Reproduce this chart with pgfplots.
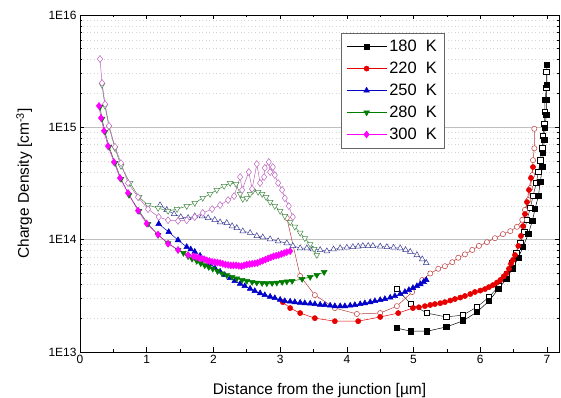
\documentclass[border=0pt]{standalone}
\usepackage{fontspec}
\setmainfont{Liberation Sans}
\usepackage{pgfplots}
\pgfplotsset{compat=1.18}
\definecolor{cred}{RGB}{230,0,0}
\definecolor{cblue}{RGB}{0,0,200}
\definecolor{cgreen}{RGB}{0,125,0}
\definecolor{cmag}{RGB}{255,0,255}
\definecolor{oblk}{RGB}{40,40,40}
\definecolor{ored}{RGB}{190,60,60}
\definecolor{oblue}{RGB}{60,60,150}
\definecolor{ogreen}{RGB}{70,140,70}
\definecolor{omag}{RGB}{190,100,190}
\begin{document}
\begin{tikzpicture}
\useasboundingbox (-80bp,-46bp) rectangle (481bp,352bp);
\begin{axis}[
  at={(0,0)}, anchor=south west,
  width=479bp, height=337bp, scale only axis,
  xmin=0, xmax=7.18, ymin=1e13, ymax=1e16, ymode=log,
  xtick={0,1,2,3,4,5,6,7}, minor x tick num=1,
  ytick={1e13,1e14,1e15,1e16}, yticklabels={1E13,1E14,1E15,1E16},
  ymajorgrids, yminorgrids,
  major grid style={black!25, line width=0.9pt},
  minor grid style={black!17, dash pattern=on 1bp off 2.5bp, line width=0.6pt},
  axis line style={line width=0.8pt},
  tick style={black, line width=0.6pt},
  major tick length=4.5bp, minor tick length=2.5bp,
  tick label style={font=\fontsize{12}{12}\selectfont},
  /pgf/number format/assume math mode=true,
  xlabel={Distance from the junction [µm]},
  ylabel={Charge Density [cm\textsuperscript{-3}]},
  label style={font=\fontsize{15.5}{16}\selectfont},
  xlabel style={at={(axis description cs:0.5,-0.1276)}, anchor=base},
  ylabel style={at={(axis description cs:-0.1065,0.5)}, anchor=base},
  legend style={at={(axis description cs:0.545,0.947)}, anchor=north west,
    draw=black!60, line width=0.6pt, font=\fontsize{16.5}{19}\selectfont,
    inner xsep=5bp, inner ysep=4.5bp, row sep=4bp, nodes={inner sep=2.5bp}},
  legend cell align=left,
  legend image code/.code={\draw[mark repeat=2,mark phase=2,#1] plot coordinates {(0bp,0bp) (20bp,0bp) (40bp,0bp)};},
]
% ---- open series ----
\addplot[forget plot, oblk, line width=0.5pt, mark=square*, mark size=2.6bp, mark options={fill=white, draw=black, line width=0.5pt}] coordinates {
(4.75,3.63e13) (4.96,2.67e13) (5.20,2.22e13) (5.49,2.05e13) (5.74,2.13e13) (5.95,2.51e13) (6.13,3.08e13) (6.28,3.86e13) (6.40,4.94e13) (6.48,6.2e13) (6.54,7.6e13) (6.60,9.3e13) (6.66,1.17e14) (6.70,1.50e14) (6.75,1.91e14) (6.79,2.44e14) (6.84,3.19e14) (6.87,4.0e14) (6.90,5.1e14) (6.93,6.5e14) (6.94,8.4e14) (6.96,1.07e15) (6.97,1.37e15) (6.97,1.75e15) (6.99,2.24e15) (6.99,3.1e15)};
\addplot[forget plot, ored, line width=0.5pt, mark=*, mark size=2.6bp, mark options={fill=white, draw=ored, line width=0.5pt}] coordinates {
(3.10,1.56e14) (3.30,4.74e13) (3.52,3.21e13) (3.82,2.46e13) (4.15,2.18e13) (4.50,2.22e13) (4.75,2.56e13) (4.98,3.42e13) (5.13,4.37e13) (5.25,5.0e13) (5.37,5.5e13) (5.47,5.8e13) (5.58,6.3e13) (5.67,6.9e13) (5.77,7.4e13) (5.88,8.1e13) (5.98,8.8e13) (6.10,9.5e13) (6.22,1.03e14) (6.34,1.12e14) (6.45,1.19e14) (6.55,1.30e14) (6.63,1.50e14) (6.67,1.84e14) (6.72,2.25e14) (6.75,2.88e14) (6.78,3.76e14) (6.79,5.1e14) (6.81,6.5e14) (6.81,9.7e14)};
\addplot[forget plot, oblue, line width=0.5pt, mark=triangle*, mark size=3.3bp, mark options={fill=white, draw=oblue, line width=0.5pt}] coordinates {
(1.20,2.03e14) (1.30,1.84e14) (1.41,1.69e14) (1.51,1.59e14) (1.62,1.56e14) (1.72,1.62e14) (1.83,1.62e14) (1.92,1.56e14) (2.02,1.50e14) (2.10,1.43e14) (2.20,1.41e14) (2.28,1.32e14) (2.35,1.27e14) (2.44,1.19e14) (2.55,1.15e14) (2.65,1.08e14) (2.74,1.05e14) (2.85,1.01e14) (2.97,9.7e13) (3.10,9.3e13) (3.19,8.8e13) (3.30,8.4e13) (3.40,8.4e13) (3.49,8.2e13) (3.60,8.1e13) (3.70,7.9e13) (3.80,8.2e13) (3.90,8.4e13) (4.00,8.5e13) (4.09,8.6e13) (4.17,8.7e13) (4.24,8.8e13) (4.32,8.8e13) (4.39,8.8e13) (4.50,8.7e13) (4.60,8.6e13) (4.70,8.5e13) (4.80,8.4e13) (4.88,8.1e13) (4.95,7.8e13) (5.05,7.3e13) (5.13,6.7e13) (5.19,6.2e13)};
\addplot[forget plot, ogreen, line width=0.5pt, mark=triangle*, mark size=3.3bp, mark options={rotate=180, fill=white, draw=ogreen, line width=0.5pt}] coordinates {
(0.33,2.38e15) (0.375,1.55e15) (0.435,1.01e15) (0.525,6.5e14) (0.615,4.52e14) (0.75,3.19e14) (0.885,2.39e14) (1.02,2.03e14) (1.17,1.91e14) (1.32,1.80e14) (1.455,1.87e14) (1.60,1.99e14) (1.72,2.12e14) (1.84,2.35e14) (1.95,2.55e14) (2.05,2.77e14) (2.16,3.0e14) (2.25,3.19e14) (2.34,3.13e14) (2.40,2.55e14) (2.44,2.30e14) (2.50,2.34e14) (2.55,2.55e14) (2.59,2.71e14) (2.67,2.66e14) (2.73,2.55e14) (2.79,2.39e14) (2.85,2.16e14) (2.92,1.99e14) (3.00,1.80e14) (3.07,1.62e14) (3.15,1.43e14) (3.22,1.30e14) (3.30,1.15e14) (3.37,1.03e14) (3.45,9.1e13) (3.51,8.25e13) (3.55,7.3e13)};
\addplot[forget plot, omag, line width=0.5pt, mark=diamond*, mark size=3.5bp, mark options={fill=white, draw=omag, line width=0.5pt}] coordinates {
(0.30,4.06e15) (0.33,2.48e15) (0.375,1.61e15) (0.435,1.03e15) (0.525,6.7e14) (0.615,4.8e14) (0.72,3.19e14) (0.87,2.39e14) (1.02,1.87e14) (1.18,1.59e14) (1.32,1.49e14) (1.47,1.47e14) (1.60,1.49e14) (1.72,1.59e14) (1.84,1.73e14) (1.98,1.87e14) (2.10,2.03e14) (2.22,2.25e14) (2.31,2.44e14) (2.40,3.61e14) (2.43,2.77e14) (2.53,4.0e14) (2.58,2.83e14) (2.65,4.71e14) (2.70,3.19e14) (2.76,3.61e14) (2.77,4.35e14) (2.83,4.91e14) (2.85,4.0e14) (2.89,4.43e14) (2.92,3.76e14) (2.97,3.19e14) (3.03,2.77e14) (3.07,2.34e14) (3.13,1.99e14) (3.19,1.59e14)};
% ---- filled series ----
\addplot[black, line width=0.5pt, mark=square*, mark size=2.6bp, mark options={fill=black}] coordinates {
(4.75,1.63e13) (4.96,1.53e13) (5.20,1.53e13) (5.49,1.67e13) (5.74,1.89e13) (5.95,2.27e13) (6.13,2.84e13) (6.27,3.63e13) (6.39,4.46e13) (6.48,5.5e13) (6.57,6.9e13) (6.64,8.6e13) (6.72,1.12e14) (6.78,1.47e14) (6.82,1.87e14) (6.87,2.44e14) (6.90,3.26e14) (6.93,4.43e14) (6.94,5.9e14) (6.96,7.7e14) (6.97,9.9e14) (6.99,1.29e15) (6.99,1.75e15) (7.00,2.38e15) (7.00,3.59e15)};
\addlegendentry{180\ \ K}
\addplot[cred, line width=0.5pt, mark=*, mark size=2.6bp, mark options={fill=cred}] coordinates {
(3.04,2.78e13) (3.15,2.46e13) (3.30,2.22e13) (3.52,2.0e13) (3.82,1.88e13) (4.17,1.88e13) (4.50,2.05e13) (4.77,2.22e13) (4.99,2.46e13) (5.08,2.5e13) (5.17,2.56e13) (5.25,2.62e13) (5.32,2.67e13) (5.40,2.72e13) (5.47,2.78e13) (5.55,2.87e13) (5.62,2.96e13) (5.70,3.05e13) (5.77,3.15e13) (5.85,3.28e13) (5.92,3.42e13) (6.00,3.52e13) (6.07,3.63e13) (6.13,3.78e13) (6.19,3.94e13) (6.25,4.15e13) (6.30,4.37e13) (6.35,4.7e13) (6.39,5.0e13) (6.43,5.5e13) (6.46,6.1e13) (6.49,6.6e13) (6.52,7.3e13) (6.57,8.8e13) (6.61,1.08e14) (6.64,1.32e14) (6.67,1.69e14) (6.70,2.16e14) (6.73,2.77e14) (6.76,3.54e14) (6.79,4.43e14)};
\addlegendentry{220\ \ K}
\addplot[cblue, line width=0.5pt, mark=triangle*, mark size=3.3bp, mark options={fill=cblue}] coordinates {
(1.18,1.38e14) (1.33,1.17e14) (1.47,9.9e13) (1.60,8.6e13) (1.66,8.2e13) (1.72,7.8e13) (1.80,7.2e13) (1.87,6.6e13) (1.95,6.1e13) (2.02,5.6e13) (2.10,5.2e13) (2.17,4.84e13) (2.25,4.55e13) (2.32,4.28e13) (2.40,4.05e13) (2.47,3.86e13) (2.55,3.66e13) (2.62,3.49e13) (2.70,3.34e13) (2.77,3.21e13) (2.85,3.11e13) (2.92,3.02e13) (3.00,2.92e13) (3.07,2.84e13) (3.15,2.81e13) (3.22,2.78e13) (3.30,2.75e13) (3.37,2.72e13) (3.45,2.70e13) (3.52,2.67e13) (3.60,2.64e13) (3.67,2.62e13) (3.75,2.59e13) (3.82,2.56e13) (3.90,2.56e13) (3.97,2.56e13) (4.05,2.59e13) (4.12,2.62e13) (4.20,2.67e13) (4.27,2.72e13) (4.35,2.78e13) (4.42,2.84e13) (4.50,2.90e13) (4.57,2.96e13) (4.65,3.05e13) (4.72,3.15e13) (4.80,3.28e13) (4.87,3.42e13) (4.93,3.56e13) (4.99,3.71e13) (5.05,3.86e13) (5.10,4.02e13) (5.15,4.2e13) (5.19,4.37e13)};
\addlegendentry{250\ \ K}
\addplot[cgreen, line width=0.5pt, mark=triangle*, mark size=3.3bp, mark options={rotate=180, fill=cgreen}] coordinates {
(0.30,1.52e15) (0.33,1.19e15) (0.375,9.1e14) (0.435,6.7e14) (0.525,4.81e14) (0.615,3.47e14) (0.735,2.5e14) (0.885,1.80e14) (1.02,1.38e14) (1.17,1.10e14) (1.32,9.3e13) (1.47,8.1e13) (1.55,7.6e13) (1.62,7.1e13) (1.68,6.75e13) (1.75,6.45e13) (1.81,6.15e13) (1.87,5.9e13) (1.93,5.7e13) (1.99,5.5e13) (2.06,5.25e13) (2.13,5.0e13) (2.20,4.82e13) (2.28,4.65e13) (2.35,4.5e13) (2.43,4.37e13) (2.50,4.28e13) (2.58,4.19e13) (2.65,4.14e13) (2.73,4.1e13) (2.80,4.08e13) (2.88,4.1e13) (2.95,4.13e13) (3.03,4.19e13) (3.10,4.23e13) (3.18,4.28e13) (3.33,4.46e13) (3.45,4.65e13) (3.55,4.84e13) (3.66,5.14e13)};
\addlegendentry{280\ \ K}
\addplot[cmag, line width=0.5pt, mark=diamond*, mark size=3.5bp, mark options={fill=cmag}] coordinates {
(0.285,1.55e15) (0.315,1.21e15) (0.36,9.3e14) (0.42,6.8e14) (0.51,4.9e14) (0.60,3.54e14) (0.72,2.6e14) (0.87,1.81e14) (1.00,1.39e14) (1.17,1.11e14) (1.32,9.2e13) (1.47,8.1e13) (1.62,7.3e13) (1.70,7.1e13) (1.74,7.0e13) (1.78,6.9e13) (1.82,6.8e13) (1.86,6.7e13) (1.90,6.55e13) (1.94,6.45e13) (1.98,6.35e13) (2.02,6.3e13) (2.06,6.25e13) (2.10,6.2e13) (2.14,6.1e13) (2.18,6.0e13) (2.22,5.95e13) (2.26,5.9e13) (2.30,5.9e13) (2.34,5.9e13) (2.38,5.85e13) (2.42,5.8e13) (2.46,5.9e13) (2.50,6.0e13) (2.54,6.05e13) (2.58,6.1e13) (2.62,6.15e13) (2.66,6.2e13) (2.70,6.35e13) (2.74,6.5e13) (2.78,6.65e13) (2.82,6.8e13) (2.86,6.95e13) (2.90,7.1e13) (2.94,7.2e13) (2.98,7.3e13) (3.02,7.45e13) (3.06,7.6e13) (3.10,7.75e13) (3.15,7.9e13)};
\addlegendentry{300\ \ K}
\end{axis}
\end{tikzpicture}
\end{document}
